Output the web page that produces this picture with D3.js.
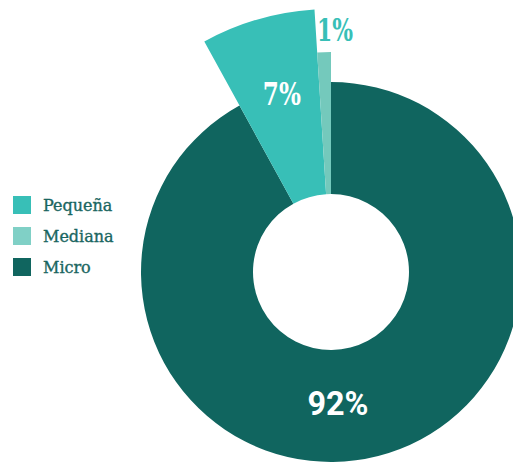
<!DOCTYPE html>
<html><head><meta charset="utf-8">
<script src="https://cdn.jsdelivr.net/npm/d3@7"></script>
<style>body{margin:0;background:#fff}svg{display:block}</style>
</head><body>
<svg id="c" width="513" height="462"></svg>
<script>
const categories = ["Micro", "Pequeña", "Mediana"];
const values = [92, 7, 1];
const labels = ["92%", "7%", "1%"];
const legendOrder = ["Pequeña", "Mediana", "Micro"];

const colors = {"Micro": "#10655f", "Pequeña": "#38bfb7", "Mediana": "#74c9bc"};
const legendColors = {"Micro": "#10655f", "Pequeña": "#38bfb7", "Mediana": "#80d0c6"};
const outerR = {"Micro": 190, "Pequeña": 263, "Mediana": 220};
const innerR = 78;
const cx = 331, cy = 272;

const svg = d3.select("#c");
const g = svg.append("g").attr("transform", `translate(${cx},${cy})`);

const data = categories.map((c, i) => ({cat: c, value: values[i], label: labels[i]}));
const pie = d3.pie().value(d => d.value).sort(null);
const arcs = pie(data);

g.selectAll("path").data(arcs).join("path")
  .attr("d", d => d3.arc().innerRadius(innerR).outerRadius(outerR[d.data.cat])(d))
  .attr("fill", d => colors[d.data.cat]);

// label placement (polar, relative to centre)
const labelPos = {
  "Micro":   {r: 132, deg: 177, fill: "#fff", font: "Roboto, 'DejaVu Sans', sans-serif", size: 33, w: 61},
  "Pequeña": {r: 185, deg: -15.4, fill: "#fff", font: "'DejaVu Serif', serif", size: 32, w: 38},
  "Mediana": {r: 242, deg: 0.95, fill: "#38bfb7", font: "'DejaVu Serif', serif", size: 31, w: 36}
};
arcs.forEach(d => {
  const p = labelPos[d.data.cat];
  const a = p.deg * Math.PI / 180;
  g.append("text")
    .attr("x", p.r * Math.sin(a))
    .attr("y", -p.r * Math.cos(a))
    .attr("text-anchor", "middle")
    .attr("dominant-baseline", "central")
    .attr("font-family", p.font)
    .attr("font-weight", "bold")
    .attr("font-size", p.size)
    .attr("textLength", p.w)
    .attr("lengthAdjust", "spacingAndGlyphs")
    .attr("fill", p.fill)
    .text(d.data.label);
});

// legend
const lg = svg.append("g").attr("transform", "translate(13,196)");
const y = d3.scaleBand().domain(legendOrder).range([0, 93]);
legendOrder.forEach(c => {
  lg.append("rect").attr("x", 0).attr("y", y(c)).attr("width", 18).attr("height", 18)
    .attr("fill", legendColors[c]);
  lg.append("text").attr("x", 30).attr("y", y(c) + 9)
    .attr("dominant-baseline", "central")
    .attr("font-family", "'DejaVu Serif', serif")
    .attr("font-size", 16)
    .attr("fill", "#1a6661")
    .attr("stroke", "#1a6661")
    .attr("stroke-width", 0.35)
    .text(c);
});
</script>
</body></html>
